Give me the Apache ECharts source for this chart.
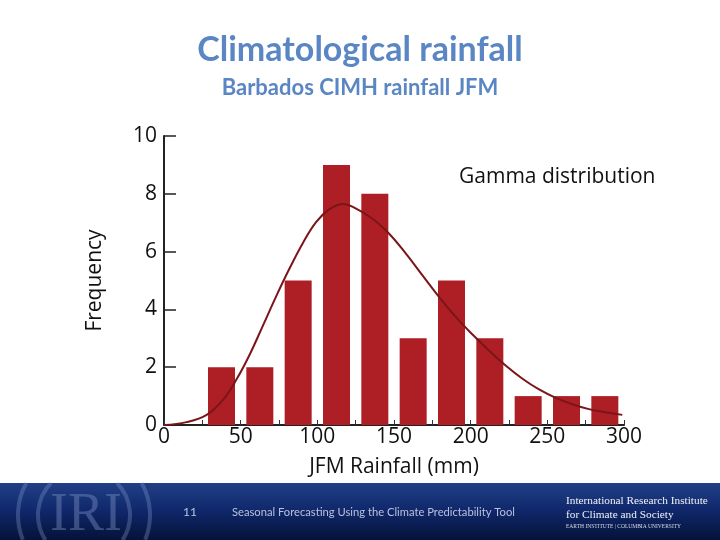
<!DOCTYPE html>
<html><head><meta charset="utf-8">
<script src="https://cdn.jsdelivr.net/npm/echarts@6/dist/echarts.min.js"></script>
<style>html,body{margin:0;padding:0;background:#fff}#c{width:720px;height:540px}</style>
</head><body><div id="c"></div>
<script>
// Histogram bins (centres, mm) and counts
const binCenters = [37.5, 62.5, 87.5, 112.5, 137.5, 162.5, 187.5, 212.5, 237.5, 262.5, 287.5];
const counts = [2, 2, 5, 9, 8, 3, 5, 3, 1, 1, 1];
// Fitted gamma curve (frequency scale)
const curveX = [0, 14.7, 27.8, 38.6, 47.3, 56, 64.6, 73.3, 82, 90.6, 99.3, 108, 116.7, 123.2, 136.2, 147, 157.9, 168.7, 179.6, 190.4, 201.2, 212.1, 223, 233.8, 244.6, 255.5, 266.3, 277.1, 288, 298.9];
const curveY = [0, 0.1, 0.35, 0.88, 1.58, 2.45, 3.45, 4.47, 5.43, 6.3, 7.03, 7.47, 7.65, 7.55, 7.13, 6.61, 5.92, 5.17, 4.42, 3.73, 3.13, 2.57, 2.05, 1.6, 1.23, 0.94, 0.72, 0.55, 0.44, 0.35];
// Axis ticks
const xTicks = [0, 50, 100, 150, 200, 250, 300];
const yTicks = [0, 2, 4, 6, 8, 10];

const chart = echarts.init(document.getElementById('c'), null, {renderer: 'canvas'});
const F = '"Open Sans", "DejaVu Sans", sans-serif';
const blue = '#5a86c4';

const option = {
  backgroundColor: '#ffffff',
  animation: false,
  grid: {left: 164, right: 96, top: 136, bottom: 115, containLabel: false},
  xAxis: {
    type: 'value', min: xTicks[0], max: xTicks[xTicks.length - 1], interval: 50,
    name: 'JFM Rainfall (mm)', nameLocation: 'middle', nameGap: 32,
    nameTextStyle: {fontFamily: F, fontSize: 21, color: '#111'},
    axisLine: {show: true, onZero: false, lineStyle: {color: '#222', width: 2}},
    axisTick: {show: true, inside: true, length: 5, lineStyle: {color: '#333', width: 1}},
    minorTick: {show: true, splitNumber: 2, length: 5, lineStyle: {color: '#333', width: 1}},
    axisLabel: {fontFamily: F, fontSize: 21, color: '#111', margin: 2},
    splitLine: {show: false}
  },
  yAxis: {
    type: 'value', min: yTicks[0], max: yTicks[yTicks.length - 1], interval: 2,
    name: 'Frequency', nameLocation: 'middle', nameGap: 58,
    nameTextStyle: {fontFamily: F, fontSize: 21, color: '#111'},
    axisLine: {show: true, lineStyle: {color: '#222', width: 2}},
    axisTick: {show: true, inside: true, length: 12, lineStyle: {color: '#222', width: 1.5}},
    axisLabel: {fontFamily: F, fontSize: 21, color: '#111', margin: 7, padding: [10, 0, 0, 0]},
    splitLine: {show: false}
  },
  series: [
    {
      type: 'bar', barWidth: 27, z: 2,
      itemStyle: {color: '#ae1f25'},
      data: binCenters.map((c, i) => [c, counts[i]])
    },
    {
      type: 'line', smooth: 0.4, showSymbol: false, symbol: 'none', z: 3,
      lineStyle: {color: '#7a1519', width: 2},
      data: curveX.map((x, i) => [x, curveY[i]])
    }
  ],
  graphic: [
    {type: 'text', left: 'center', top: 33, style: {text: 'Climatological rainfall', font: 'bold 34px Lato, "Open Sans", sans-serif', fill: blue}},
    {type: 'text', left: 'center', top: 77, style: {text: 'Barbados CIMH rainfall JFM', font: 'bold 22px Lato, "Open Sans", sans-serif', fill: blue}},
    {type: 'text', x: 459, y: 167, style: {text: 'Gamma distribution', font: '21px "Open Sans", sans-serif', fill: '#111'}},
    // bottom banner
    {type: 'rect', shape: {x: 0, y: 483, width: 720, height: 57}, z: -1,
     style: {fill: new echarts.graphic.LinearGradient(0, 0, 0, 1, [{offset: 0, color: '#213f86'}, {offset: 0.5, color: '#0f276a'}, {offset: 1, color: '#051238'}])}},
    {type: 'arc', shape: {cx: 84, cy: 515, r: 66, startAngle: 158 * Math.PI / 180, endAngle: 209 * Math.PI / 180, clockwise: true}, style: {stroke: 'rgba(130,150,200,0.35)', lineWidth: 4, fill: null}},
    {type: 'arc', shape: {cx: 84, cy: 515, r: 66, startAngle: -29 * Math.PI / 180, endAngle: 22 * Math.PI / 180, clockwise: true}, style: {stroke: 'rgba(130,150,200,0.35)', lineWidth: 4, fill: null}},
    {type: 'arc', shape: {cx: 84, cy: 515, r: 46, startAngle: 147 * Math.PI / 180, endAngle: 224 * Math.PI / 180, clockwise: true}, style: {stroke: 'rgba(130,150,200,0.35)', lineWidth: 4, fill: null}},
    {type: 'arc', shape: {cx: 84, cy: 515, r: 46, startAngle: -44 * Math.PI / 180, endAngle: 33 * Math.PI / 180, clockwise: true}, style: {stroke: 'rgba(130,150,200,0.35)', lineWidth: 4, fill: null}},
    {type: 'text', x: 86, y: 516, style: {text: 'IRI', font: '54px "Liberation Serif", "DejaVu Serif", serif', fill: 'rgba(120,140,190,0.45)', align: 'center', verticalAlign: 'middle'}},
    {type: 'text', x: 190, y: 512, style: {text: '11', font: '12px Lato, sans-serif', fill: '#b8c2dc', align: 'center', verticalAlign: 'middle'}},
    {type: 'text', x: 232, y: 512, style: {text: 'Seasonal Forecasting Using the Climate Predictability Tool', font: '11.2px Lato, sans-serif', fill: '#b8c2dc', verticalAlign: 'middle'}},
    {type: 'text', x: 566, y: 501, style: {text: 'International Research Institute', font: '11.3px "Liberation Serif", serif', fill: '#f0f2f8', verticalAlign: 'middle'}},
    {type: 'text', x: 566, y: 515, style: {text: 'for Climate and Society', font: '11.3px "Liberation Serif", serif', fill: '#f0f2f8', verticalAlign: 'middle'}},
    {type: 'text', x: 566, y: 527, style: {text: 'EARTH INSTITUTE | COLUMBIA UNIVERSITY', font: '5.5px "Liberation Serif", serif', fill: '#d8dcea', verticalAlign: 'middle'}}
  ]
};
chart.setOption(option);
</script>
</body></html>
